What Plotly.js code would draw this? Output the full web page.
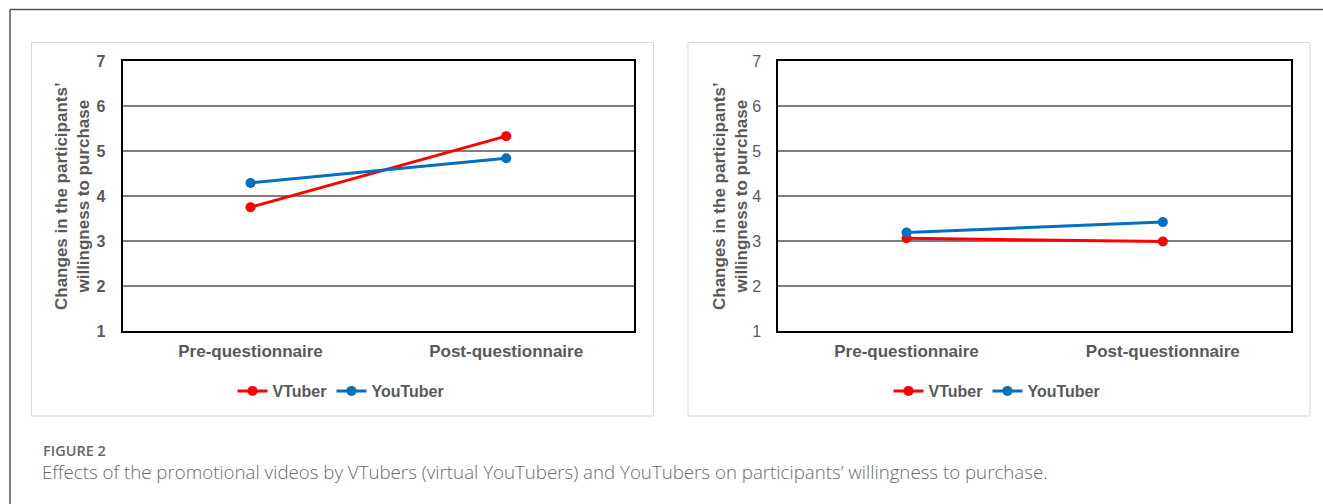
<!DOCTYPE html>
<html>
<head>
<meta charset="utf-8">
<script src="https://cdn.plot.ly/plotly-3.0.1.min.js"></script>
<style>
html,body{margin:0;padding:0;background:#fff;}
#chart{width:1323px;height:504px;}
</style>
</head>
<body>
<div id="chart"></div>
<script>
// ---- data ----
const categories = ["Pre-questionnaire", "Post-questionnaire"];
const leftVTuber = [3.75, 5.33];
const leftYouTuber = [4.29, 4.84];
const rightVTuber = [3.06, 2.99];
const rightYouTuber = [3.19, 3.42];
const seriesNames = ["VTuber", "YouTuber"];
const yTicks = [1, 2, 3, 4, 5, 6, 7];
const yTitle = "Changes in the participants’<br>willingness to purchase";
const figureLabel = "FIGURE 2";
const captionText = "Effects of the promotional videos by VTubers (virtual YouTubers) and YouTubers on participants’ willingness to purchase.";

// ---- layout helpers ----
const W = 1323, H = 504;
const px = x => x / W;
const py = y => 1 - y / H;

const RED = "#FF0000", BLUE = "#0070C0", TXT = "#595959";
const boldFont = {family: "Liberation Sans, Arial, sans-serif", color: TXT, size: 16, weight: "bold"};

function trace(y, name, color, xa, ya, leg) {
  return {
    x: categories, y: y, name: name, type: "scatter", mode: "lines+markers",
    xaxis: xa, yaxis: ya, legend: leg,
    line: {color: color, width: 3},
    marker: {color: color, size: 10},
    hoverinfo: "skip"
  };
}

const data = [
  trace(leftVTuber, seriesNames[0], RED, "x", "y", "legend"),
  trace(leftYouTuber, seriesNames[1], BLUE, "x", "y", "legend"),
  trace(rightVTuber, seriesNames[0], RED, "x2", "y2", "legend2"),
  trace(rightYouTuber, seriesNames[1], BLUE, "x2", "y2", "legend2")
];

function xaxis(domain, anchor) {
  return {
    domain: domain, anchor: anchor, type: "category", range: [-0.5, 1.5],
    showgrid: false, zeroline: false, showline: true, mirror: true,
    linecolor: "#000", linewidth: 2, ticks: "", ticklabelstandoff: 4,
    tickfont: {family: "Liberation Sans, Arial, sans-serif", size: 17, color: TXT, weight: "bold"},
    fixedrange: true
  };
}
function yaxis(domain, anchor, bold) {
  return {
    domain: domain, anchor: anchor, range: [1, 7], tickvals: yTicks,
    showgrid: true, gridcolor: "#7f7f7f", gridwidth: 1.3, zeroline: false,
    showline: true, mirror: true, linecolor: "#000", linewidth: 2, ticks: "",
    ticklabelstandoff: 12,
    tickfont: {family: "Liberation Sans, Arial, sans-serif", size: 16, color: TXT, weight: bold ? "bold" : "normal"},
    fixedrange: true
  };
}

const yDom = [py(331), py(61)];

const layout = {
  width: W, height: H,
  margin: {l: 0, r: 0, t: 0, b: 0, pad: 0},
  paper_bgcolor: "#fff", plot_bgcolor: "#fff",
  showlegend: true,
  xaxis: xaxis([px(122.7), px(634)], "y"),
  yaxis: yaxis(yDom, "x", true),
  xaxis2: xaxis([px(778.4), px(1291)], "y2"),
  yaxis2: yaxis(yDom, "x2", false),
  legend: {
    orientation: "h", x: px(341), xanchor: "center", y: py(391), yanchor: "middle",
    font: boldFont, bgcolor: "rgba(0,0,0,0)", itemwidth: 30, tracegroupgap: 0
  },
  legend2: {
    orientation: "h", x: px(997), xanchor: "center", y: py(391), yanchor: "middle",
    font: boldFont, bgcolor: "rgba(0,0,0,0)", itemwidth: 30, tracegroupgap: 0
  },
  shapes: [
    // outer frame (top + left)
    {type: "line", xref: "paper", yref: "paper", x0: px(10), x1: 1, y0: py(9.5), y1: py(9.5), line: {color: "#555", width: 1.5}},
    {type: "line", xref: "paper", yref: "paper", x0: px(10), x1: px(10), y0: py(9.5), y1: 0, line: {color: "#555", width: 1.5}},
    // chart cards
    {type: "rect", xref: "paper", yref: "paper", x0: px(31.5), x1: px(653.5), y0: py(416), y1: py(42.5), line: {color: "#d9d9d9", width: 1}, layer: "below"},
    {type: "rect", xref: "paper", yref: "paper", x0: px(688), x1: px(1310), y0: py(416), y1: py(42.5), line: {color: "#d9d9d9", width: 1}, layer: "below"}
  ],
  annotations: [
    {text: yTitle, xref: "paper", yref: "paper", x: px(73), y: py(196), xanchor: "center", yanchor: "middle",
     textangle: -90, showarrow: false, align: "center",
     font: {family: "Liberation Sans, Arial, sans-serif", size: 17, color: TXT, weight: "bold"}},
    {text: yTitle, xref: "paper", yref: "paper", x: px(731), y: py(196), xanchor: "center", yanchor: "middle",
     textangle: -90, showarrow: false, align: "center",
     font: {family: "Liberation Sans, Arial, sans-serif", size: 17, color: TXT, weight: "bold"}},
    {text: figureLabel, xref: "paper", yref: "paper", x: px(41), y: py(450), xanchor: "left", yanchor: "middle",
     showarrow: false, font: {family: "Open Sans, sans-serif", size: 14.5, color: "#666", weight: 600}},
    {text: captionText, xref: "paper", yref: "paper", x: px(40), y: py(471), xanchor: "left", yanchor: "middle",
     showarrow: false, font: {family: "Open Sans, sans-serif", size: 18.7, color: "#6a6a6a", weight: 300}}
  ]
};

Plotly.newPlot("chart", data, layout, {displayModeBar: false, staticPlot: true});
</script>
</body>
</html>
